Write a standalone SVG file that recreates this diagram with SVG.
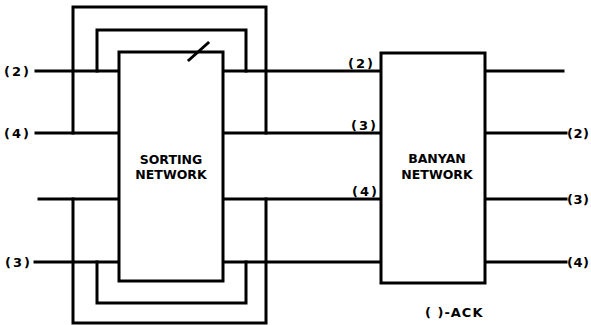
<svg xmlns="http://www.w3.org/2000/svg" width="591" height="325" viewBox="0 0 591 325">
<style>
.ln{stroke:#000;stroke-width:3;fill:none;stroke-linecap:square}
.box{stroke:#000;stroke-width:3;fill:#fff}
.t{font-family:"DejaVu Sans",sans-serif;font-weight:bold;font-size:13px;letter-spacing:2px;fill:#000}
.r{letter-spacing:0.5px}
.n{font-family:"DejaVu Sans",sans-serif;font-weight:bold;font-size:12.5px;fill:#000;text-anchor:middle}
</style>
<rect width="591" height="325" fill="#fff"/>
<g id="connectors">
<path class="ln" d="M36 71H119M36 133H119M39 199H119M35 262H119"/>
<path class="ln" d="M223 71H381M223 133H381M223 199H381M223 262H381"/>
<path class="ln" d="M485 71H563M485 133H566M485 199H566M485 262H566"/>
<path class="ln" d="M73 133V7H266V133"/>
<path class="ln" d="M97 71V30H246V71"/>
<path class="ln" d="M73 199V323H266V199"/>
<path class="ln" d="M97 262V303H246V262"/>
</g>
<g id="sorting">
<rect class="box" x="119" y="52" width="104" height="229"/>
<path class="ln" d="M189 60L208 43"/>
<text class="n" x="171" y="164">SORTING</text>
<text class="n" x="171" y="179">NETWORK</text>
</g>
<g id="banyan">
<rect class="box" x="381" y="53" width="104" height="230"/>
<text class="n" x="437" y="163">BANYAN</text>
<text class="n" x="437" y="179">NETWORK</text>
</g>
<g id="labels">
<text class="t" x="4" y="76">(2)</text>
<text class="t" x="4" y="138">(4)</text>
<text class="t" x="5" y="267">(3)</text>
<text class="t" x="348" y="68">(2)</text>
<text class="t" x="351" y="130">(3)</text>
<text class="t" x="352" y="196">(4)</text>
<text class="t r" x="567" y="138">(2)</text>
<text class="t r" x="567" y="204">(3)</text>
<text class="t r" x="567" y="267">(4)</text>
<text class="t" x="425" y="317" style="letter-spacing:1px">(  )-ACK</text>
</g>
</svg>
